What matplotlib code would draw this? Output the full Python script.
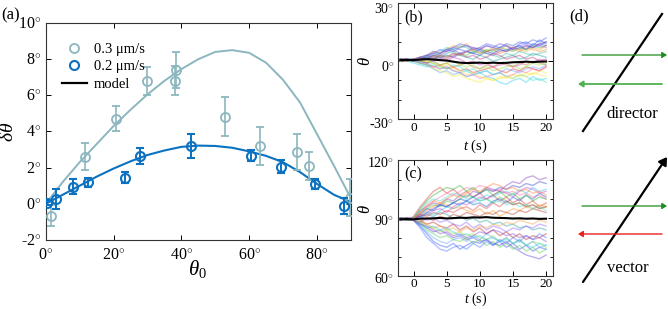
import numpy as np
import matplotlib
matplotlib.use("Agg")
import matplotlib.pyplot as plt
import matplotlib.transforms as mtransforms
from matplotlib.lines import Line2D
from matplotlib.ticker import FixedLocator, FuncFormatter

plt.rcParams['font.family'] = ['Liberation Serif', 'DejaVu Serif']
plt.rcParams['font.size'] = 10
plt.rcParams['mathtext.fontset'] = 'custom'
plt.rcParams['mathtext.rm'] = 'Liberation Serif'
plt.rcParams['mathtext.it'] = 'Liberation Serif:italic'

# ---- panel (a) data ----
light_x = [1.5, 11.6, 20.6, 29.9, 38.2, 38.4, 52.8, 63.3, 74.0, 77.5, 89.6]
light_y = [-0.65, 2.6, 4.7, 6.8, 6.8, 7.4, 4.82, 3.2, 2.85, 2.1, 0.35]
light_err = [0.6, 0.75, 0.7, 0.78, 0.8, 1.0, 1.07, 1.05, 1.0, 0.78, 1.03]

dark_x = [0.3, 2.9, 8.1, 12.5, 23.3, 27.7, 42.9, 60.6, 69.4, 79.5, 88.0]
dark_y = [0.05, 0.25, 0.95, 1.2, 1.45, 2.65, 3.2, 2.65, 2.05, 1.1, -0.12]
dark_err = [0.1, 0.55, 0.4, 0.25, 0.3, 0.45, 0.64, 0.3, 0.35, 0.3, 0.42]

model_x = [0, 5, 10, 15, 20, 25, 30, 35, 40, 45, 50, 55, 60, 65, 70, 75, 80, 85, 90]
model_light = [0, 1.2, 2.3, 3.3, 4.3, 5.2, 6.05, 6.8, 7.45, 8.0, 8.4, 8.5, 8.35,
               7.8, 6.85, 5.6, 3.85, 2.1, 0.3]
model_dark = [0, 0.5, 1.0, 1.5, 1.95, 2.35, 2.7, 2.95, 3.15, 3.22, 3.2, 3.1, 2.9,
              2.65, 2.3, 1.75, 1.1, 0.5, 0.1]

# ---- panel (b)/(c) traces, t = -2 ... 20 s ----
t = list(range(-2, 21))

traces_b = [
    [0, 1, 0, 2, 3, 4, 6, 5, 7, 6, 5, 4, 6, 5, 6, 7, 8, 6, 9, 10, 8, 11, 9],
    [1, 0, 1, 1, 2, 4, 3, 5, 6, 4, 5, 6, 5, 4, 3, 5, 6, 7, 6, 8, 7, 9, 10],
    [1, 1, 0, 2, 3, 5, 4, 6, 8, 7, 9, 6, 7, 5, 6, 4, 5, 6, 5, 7, 6, 5, 6],
    [0, 1, 1, 2, 1, 3, 5, 7, 6, 8, 7, 5, 6, 4, 3, 2, 4, 3, 5, 4, 3, 4, 5],
    [1, 0, 1, 0, -1, 1, 2, 3, 2, 4, 3, 5, 4, 6, 5, 7, 6, 5, 7, 6, 8, 7, 8],
    [1, 1, 0, -1, -2, -3, -2, -4, -3, -5, -4, -6, -5, -4, -3, -5, -6, -4, -5, -3, -4, -5, -3],
    [0, 1, 0, -1, -2, -4, -5, -6, -8, -7, -9, -10, -11, -9, -10, -8, -9, -7, -8, -6, -7, -5, -6],
    [1, 0, -1, -2, -3, -2, -4, -3, -5, -6, -5, -7, -6, -8, -9, -11, -12, -10, -9, -11, -8, -10, -9],
    [0, 1, 0, -1, -1, -3, -4, -3, -5, -6, -8, -7, -9, -8, -7, -6, -8, -7, -5, -6, -4, -5, -3],
    [1, 0, 1, -1, -2, -4, -6, -5, -7, -6, -8, -7, -6, -5, -7, -6, -4, -5, -6, -4, -3, -4, -2],
    [0, 1, 1, 0, 1, 2, 1, 0, 2, 1, -1, 0, -2, -1, -3, -2, -1, -3, -2, 0, -1, 1, 0],
    [1, 1, 0, 1, 2, 1, 3, 2, 4, 3, 5, 4, 3, 5, 4, 6, 5, 7, 8, 6, 9, 8, 10],
    [0, 0, 1, 0, -1, 0, -2, -1, -3, -2, -1, -3, -4, -2, -3, -1, -2, -3, -1, -2, 0, -1, -2],
    [1, 0, 0, 1, 2, 3, 2, 4, 5, 3, 2, 1, 3, 2, 0, 1, 2, 3, 1, 2, 4, 3, 2],
    [0, 1, 0, 0, -1, 0, 1, 3, 2, 4, 5, 7, 6, 8, 7, 6, 5, 7, 8, 9, 7, 8, 7],
    [1, 0, 1, 0, 0, -1, -2, -1, 0, -2, -3, -2, -4, -3, -5, -4, -3, -2, -4, -3, -1, -2, -1],
    [0, 1, 1, 2, 3, 2, 4, 6, 5, 7, 8, 6, 7, 9, 8, 7, 9, 8, 10, 9, 11, 10, 12],
    [1, 0, 1, 1, 0, 2, 3, 2, 4, 3, 5, 6, 4, 5, 7, 6, 8, 7, 6, 5, 7, 6, 8],
    [0, 1, 0, -1, -2, -1, -3, -4, -2, -3, -5, -4, -6, -5, -7, -6, -8, -9, -7, -8, -10, -9, -11],
    [1, 0, 1, 2, 1, 3, 2, 1, 3, 4, 2, 3, 1, 2, 4, 3, 1, 2, 3, 1, 2, 0, 1],
    [0, 1, 0, 1, 0, -1, -3, -2, -4, -5, -7, -6, -8, -9, -10, -9, -8, -9, -7, -8, -6, -7, -8],
    [1, 1, 0, 1, 3, 5, 4, 6, 7, 9, 8, 7, 6, 8, 7, 9, 8, 6, 7, 8, 7, 9, 8],
]
colors_b = ['#3050ff', '#8040c0', '#ff9020', '#30c0a0', '#40c040', '#e03030', '#f0f020',
            '#20d0f0', '#ff70a0', '#60a0ff', '#d040d0', '#2040c0', '#c07030', '#20a0a0',
            '#9060ff', '#a0e040', '#4060f0', '#f0a030', '#40e0c0', '#c03080', '#ffe040',
            '#6050e0']
mean_b = [0.5, 0.6, 0.5, 0.8, 1.0, 0.8, 0.5, 0.3, -0.3, -0.8, -1.0, -0.9, -0.8, -1.0,
          -0.8, -1.0, -0.9, -0.6, -0.5, -0.3, -0.5, -0.3, -0.2]

traces_c = [
    [90, 89, 91, 96, 100, 104, 106, 103, 105, 102, 104, 101, 103, 100, 102, 99, 101, 98, 100, 97, 99, 96, 98],
    [89, 90, 90, 94, 96, 98, 97, 100, 99, 102, 101, 104, 103, 106, 105, 104, 107, 109, 108, 111, 112, 110, 111],
    [90, 89, 89, 86, 82, 78, 76, 75, 77, 74, 76, 78, 77, 79, 76, 78, 75, 77, 74, 76, 73, 75, 74],
    [89, 90, 89, 87, 85, 83, 84, 82, 80, 81, 79, 80, 78, 79, 77, 76, 78, 75, 73, 71, 70, 69, 71],
    [90, 90, 89, 93, 95, 97, 96, 99, 98, 100, 102, 101, 99, 100, 98, 101, 99, 97, 98, 96, 97, 95, 96],
    [89, 90, 90, 91, 93, 92, 94, 96, 95, 97, 99, 98, 100, 102, 101, 103, 104, 102, 105, 103, 106, 104, 105],
    [90, 89, 90, 92, 94, 96, 98, 97, 95, 96, 94, 93, 95, 92, 94, 91, 93, 95, 94, 96, 95, 97, 96],
    [90, 90, 89, 88, 86, 85, 83, 84, 82, 83, 81, 82, 80, 79, 81, 78, 80, 77, 79, 76, 78, 77, 75],
    [89, 90, 90, 91, 92, 94, 95, 93, 96, 98, 97, 99, 101, 100, 102, 104, 103, 101, 104, 106, 105, 103, 104],
    [90, 89, 90, 89, 87, 88, 86, 85, 87, 84, 86, 83, 85, 82, 84, 81, 83, 80, 82, 79, 81, 80, 82],
    [90, 90, 89, 90, 92, 91, 93, 92, 90, 91, 89, 90, 88, 89, 87, 88, 86, 87, 85, 86, 84, 85, 84],
    [89, 90, 89, 86, 83, 80, 78, 77, 79, 80, 78, 81, 79, 82, 80, 78, 80, 77, 79, 76, 78, 75, 76],
    [90, 89, 90, 93, 97, 99, 101, 103, 102, 104, 106, 105, 107, 106, 104, 105, 103, 104, 102, 103, 101, 102, 100],
    [90, 90, 89, 87, 84, 82, 80, 81, 79, 78, 80, 77, 79, 76, 78, 75, 77, 74, 76, 73, 75, 72, 74],
    [89, 90, 90, 92, 95, 94, 97, 96, 98, 97, 99, 97, 98, 96, 99, 100, 98, 101, 99, 102, 100, 103, 101],
    [90, 89, 89, 88, 90, 89, 91, 90, 92, 91, 93, 92, 91, 93, 92, 94, 93, 92, 94, 93, 95, 94, 93],
    [90, 90, 90, 91, 89, 90, 88, 89, 87, 86, 88, 85, 87, 84, 86, 85, 83, 85, 84, 86, 85, 87, 86],
    [89, 90, 89, 88, 87, 85, 86, 84, 85, 83, 85, 84, 86, 85, 87, 86, 88, 87, 89, 88, 87, 89, 88],
    [90, 89, 90, 94, 98, 100, 99, 101, 103, 102, 100, 101, 99, 100, 98, 99, 97, 98, 96, 97, 95, 96, 94],
    [90, 90, 89, 91, 93, 95, 97, 96, 98, 100, 99, 101, 103, 105, 104, 106, 105, 107, 106, 108, 107, 109, 108],
    [90, 89, 90, 95, 99, 102, 104, 106, 105, 107, 104, 106, 103, 105, 102, 104, 101, 103, 100, 102, 99, 101, 100],
    [89, 90, 89, 85, 80, 77, 74, 73, 75, 76, 74, 77, 75, 78, 76, 79, 77, 80, 78, 81, 79, 82, 80],
    [90, 90, 89, 92, 91, 93, 92, 94, 93, 95, 96, 94, 97, 95, 98, 96, 99, 97, 98, 96, 97, 95, 96],
    [90, 89, 90, 88, 85, 86, 84, 85, 83, 81, 82, 80, 81, 79, 80, 78, 79, 77, 78, 76, 75, 77, 76],
    [89, 90, 90, 93, 96, 99, 98, 100, 102, 101, 103, 105, 104, 106, 108, 107, 105, 106, 104, 105, 103, 104, 102],
    [90, 90, 89, 87, 86, 84, 82, 83, 81, 82, 80, 81, 83, 82, 84, 83, 81, 82, 80, 81, 79, 80, 78],
]
colors_c = ['#e03030', '#8040c0', '#3050ff', '#6040e0', '#40c040', '#20d0f0', '#ff9020',
            '#a0e040', '#d040d0', '#c02020', '#20a0a0', '#60a0ff', '#ff70a0', '#50d050',
            '#2060e0', '#b04030', '#9060ff', '#f0a040', '#40e0e0', '#3040d0', '#30b030',
            '#4070ff', '#e04040', '#30d0e0', '#ff8030', '#8050d0']
mean_c = [89.5, 89.6, 89.5, 89.8, 89.9, 90.0, 90.2, 89.9, 90.1, 90.3, 90.2, 90.5, 90.4,
          90.6, 90.3, 90.2, 90.1, 89.9, 90.0, 89.8, 89.9, 89.7, 89.8]

LIGHT = '#8cb6bf'
DARK = '#0a72c0'


def deg_fmt(v, pos):
    return "%d$^{\\circ}$" % v


def style_axes(ax, size):
    ax.tick_params(direction='in', top=True, right=True, length=3.5, width=0.7, pad=3,
                   labelsize=size)
    ax.tick_params(which='minor', direction='in', top=True, right=True, length=2.5, width=0.6)
    for s in ax.spines.values():
        s.set_linewidth(0.8)
        s.set_color('#333333')


def shift_ylabels(fig, ax, dy_px):
    off = mtransforms.ScaledTranslation(0, -dy_px / 100.0, fig.dpi_scale_trans)
    for lab in ax.get_yticklabels():
        lab.set_transform(lab.get_transform() + off)


fig = plt.figure(figsize=(6.68, 3.09), dpi=100)

# ---- (d) drawn in pixel coordinates on a full-figure overlay ----
axd = fig.add_axes([0, 0, 1, 1])
axd.set_xlim(0, 668)
axd.set_ylim(309, 0)
axd.axis('off')


def arrow(ax, start, end, color, lw, hw):
    ax.annotate('', xy=end, xytext=start,
                arrowprops=dict(arrowstyle='-|>,head_length=%.2f,head_width=%.2f' % (hw * 1.6, hw),
                                color=color, lw=lw, shrinkA=0, shrinkB=0))


axd.plot([583, 662], [131, 14], color='black', lw=1.6)
arrow(axd, (582, 55), (667, 55), '#1e8c1e', 0.9, 0.18)
arrow(axd, (662, 84), (578, 84), '#4fb24f', 1.3, 0.18)
axd.text(632, 114, 'director', ha='center', va='center', fontsize=12)
arrow(axd, (583, 282), (667, 157), 'black', 1.6, 0.28)
arrow(axd, (582, 206), (667, 206), '#1e8c1e', 0.9, 0.18)
arrow(axd, (662, 234), (578, 234), '#e82020', 1.0, 0.18)
axd.text(628, 268, 'vector', ha='center', va='center', fontsize=12)
axd.text(579, 16, '(d)', ha='center', va='center', fontsize=12)

# ---- (a) ----
ax = fig.add_axes([0.0684, 0.2233, 0.457, 0.7023])
ax.plot(model_x, model_light, color=LIGHT, lw=1.4, zorder=2)
ax.plot(model_x, model_dark, color=DARK, lw=1.5, zorder=2)
ax.errorbar(light_x, light_y, yerr=light_err, fmt='o', mfc='none', mec=LIGHT, ecolor=LIGHT,
            ms=6.5, mew=1.3, elinewidth=1.2, capsize=2.8, capthick=1.2, zorder=3)
ax.errorbar(dark_x, dark_y, yerr=dark_err, fmt='o', mfc='none', mec=DARK, ecolor=DARK,
            ms=6.5, mew=1.5, elinewidth=1.4, capsize=2.8, capthick=1.4, zorder=4)
ax.set_xlim(0, 90)
ax.set_ylim(-2, 10)
ax.xaxis.set_major_locator(FixedLocator([0, 20, 40, 60, 80]))
ax.yaxis.set_major_locator(FixedLocator([-2, 0, 2, 4, 6, 8, 10]))
ax.xaxis.set_major_formatter(FuncFormatter(deg_fmt))
ax.yaxis.set_major_formatter(FuncFormatter(deg_fmt))
style_axes(ax, 11.5)
ax.tick_params(axis='x', pad=6)
ax.set_xlabel(r'$\theta_0$', fontsize=15)
ax.xaxis.set_label_coords(0.496, -0.085)
ax.set_ylabel(r'$\delta\theta$', fontsize=14)
ax.yaxis.set_label_coords(-0.094, 0.5)
handles = [Line2D([], [], ls='none', marker='o', mfc='none', mec=LIGHT, ms=6.5, mew=1.3),
           Line2D([], [], ls='none', marker='o', mfc='none', mec=DARK, ms=6.5, mew=1.5),
           Line2D([], [], color='black', lw=1.6)]
ax.legend(handles, ['0.3 \u03bcm/s', '0.2 \u03bcm/s', 'model'], loc='upper left',
          bbox_to_anchor=(0.01, 0.97), frameon=False, handlelength=1.7, handletextpad=0.5,
          labelspacing=0.3, fontsize=10.5)
fig.text(0.002, 0.95, '(a)', fontsize=12, va='center')

# ---- (b) ----
axb = fig.add_axes([0.5963, 0.615, 0.2311, 0.3745])
for tr, c in zip(traces_b, colors_b):
    axb.plot(t, tr, color=c, alpha=0.42, lw=1.0)
axb.plot(t, mean_b, color='black', lw=1.5)
axb.set_xlim(-2.3, 21)
axb.set_ylim(-30, 30)
axb.xaxis.set_major_locator(FixedLocator([0, 5, 10, 15, 20]))
axb.yaxis.set_major_locator(FixedLocator([-30, 0, 30]))
axb.yaxis.set_minor_locator(FixedLocator([-20, -10, 10, 20]))
axb.yaxis.set_major_formatter(FuncFormatter(deg_fmt))
style_axes(axb, 10)
axb.tick_params(axis='x', pad=2, labelsize=9.5)
axb.set_xlabel(r'$t$ (s)', fontsize=10.5)
axb.xaxis.set_label_coords(0.5, -0.16)
axb.set_ylabel(r'$\theta$', fontsize=12)
axb.yaxis.set_label_coords(-0.16, 0.5)
axb.text(0.04, 0.88, '(b)', transform=axb.transAxes, fontsize=11.5, va='center')
shift_ylabels(fig, axb, 4)

# ---- (c) ----
axc = fig.add_axes([0.5963, 0.106, 0.2311, 0.375])
for tr, c in zip(traces_c, colors_c):
    axc.plot(t, tr, color=c, alpha=0.42, lw=1.0)
axc.plot(t, mean_c, color='black', lw=1.5)
axc.set_xlim(-2.3, 21)
axc.set_ylim(60, 120)
axc.xaxis.set_major_locator(FixedLocator([0, 5, 10, 15, 20]))
axc.yaxis.set_major_locator(FixedLocator([60, 90, 120]))
axc.yaxis.set_minor_locator(FixedLocator([70, 80, 100, 110]))
axc.yaxis.set_major_formatter(FuncFormatter(deg_fmt))
style_axes(axc, 10)
axc.tick_params(axis='x', pad=1.5, labelsize=9.5)
axc.set_xlabel(r'$t$ (s)', fontsize=10)
axc.xaxis.set_label_coords(0.5, -0.125)
axc.set_ylabel(r'$\theta$', fontsize=12)
axc.yaxis.set_label_coords(-0.16, 0.58)
axc.text(0.04, 0.88, '(c)', transform=axc.transAxes, fontsize=11.5, va='center')
shift_ylabels(fig, axc, 1.5)

fig.savefig('out.png', dpi=100)
